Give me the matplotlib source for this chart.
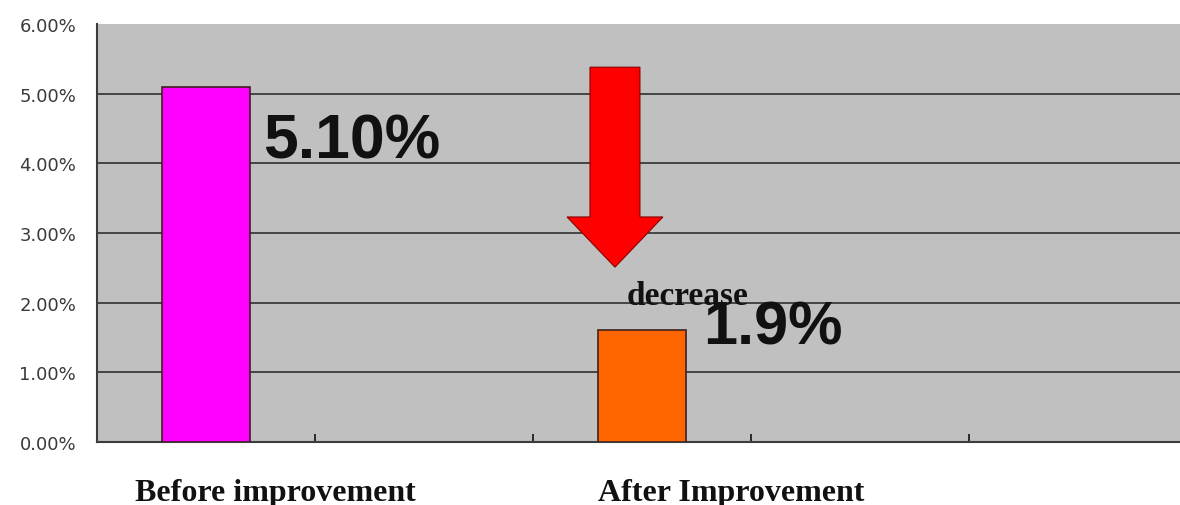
import matplotlib
matplotlib.use("Agg")
import matplotlib.pyplot as plt
from matplotlib.patches import FancyArrow
from matplotlib.ticker import FuncFormatter
import matplotlib.transforms as mtransforms

# ---- data ----
categories = ["Before improvement", "", "After Improvement", "", ""]
values = [5.10, 0.0, 1.61, 0.0, 0.0]          # percent
bar_colors = ["#ff00ff", "#ff00ff", "#ff6600", "#ff6600", "#ff6600"]
value_labels = ["5.10%", "1.9%"]
y_ticks = [0, 1, 2, 3, 4, 5, 6]

W, H = 1180, 506
fig = plt.figure(figsize=(W / 100, H / 100), dpi=100)
fig.patch.set_facecolor("white")

left, bottom, top = 97, 443, 25
ax = fig.add_axes([left / W, (H - bottom) / H, (W - left) / W, (bottom - top) / H])
ax.set_facecolor("#c0c0c0")

x = list(range(len(categories)))
shown = [i for i, v in enumerate(values) if v > 0]
ax.bar([x[i] for i in shown], [values[i] for i in shown], width=0.4,
       color=[bar_colors[i] for i in shown], edgecolor="#402020", linewidth=1.2, zorder=3)

ax.set_ylim(0, 6)
ax.set_xlim(-0.5, (W - left) / 218 - 0.5)
ax.set_yticks(y_ticks)
ax.yaxis.set_major_formatter(FuncFormatter(lambda v, p: f"{v:.2f}%"))
ax.tick_params(axis="y", length=0, pad=15, labelsize=13, labelcolor="#3a3a3a")
for lab in ax.get_yticklabels():
    lab.set_fontfamily("DejaVu Sans")

# x ticks at category boundaries, inward, no labels
ax.set_xticks([i + 0.5 for i in range(len(categories) - 1)])
ax.set_xticklabels([])
ax.tick_params(axis="x", direction="in", length=6, width=1.3, color="#202020")

# gridlines
for yv in y_ticks[1:-1]:
    ax.axhline(yv, color="#3c3c3c", linewidth=1.3, zorder=1)

for s in ["top", "right"]:
    ax.spines[s].set_visible(False)
for s in ["left", "bottom"]:
    ax.spines[s].set_color("#3c3c3c")
    ax.spines[s].set_linewidth(1.5)

# value labels
ax.text(0.26, 4.09, value_labels[0], fontsize=45, fontweight="bold",
        family="Liberation Sans", va="baseline", ha="left", color="#111111", zorder=5)
ax.text(2.28, 1.41, value_labels[1], fontsize=44, fontweight="bold",
        family="Liberation Sans", va="baseline", ha="left", color="#111111", zorder=5)
ax.text(1.93, 1.98, "decrease", fontsize=24, fontweight="bold",
        family="Liberation Serif", va="baseline", ha="left", color="#111111", zorder=6)

# red arrow
arrow = FancyArrow(1.876, 5.38, 0, -2.87, width=0.229, head_width=0.44,
                   head_length=0.72, length_includes_head=True,
                   facecolor="#ff0000", edgecolor="#8a0000", linewidth=0.8, zorder=4)
ax.add_patch(arrow)

# category labels below the axis
trans = mtransforms.blended_transform_factory(ax.transData, fig.transFigure)
ax.text(0.32, (H - 501) / H, categories[0], transform=trans, fontsize=23,
        fontweight="bold", family="Liberation Serif", ha="center", va="baseline",
        color="#111111", clip_on=False)
ax.text(2.41, (H - 501) / H, categories[2], transform=trans, fontsize=23,
        fontweight="bold", family="Liberation Serif", ha="center", va="baseline",
        color="#111111", clip_on=False)

fig.savefig("out.png", dpi=100, facecolor="white")
